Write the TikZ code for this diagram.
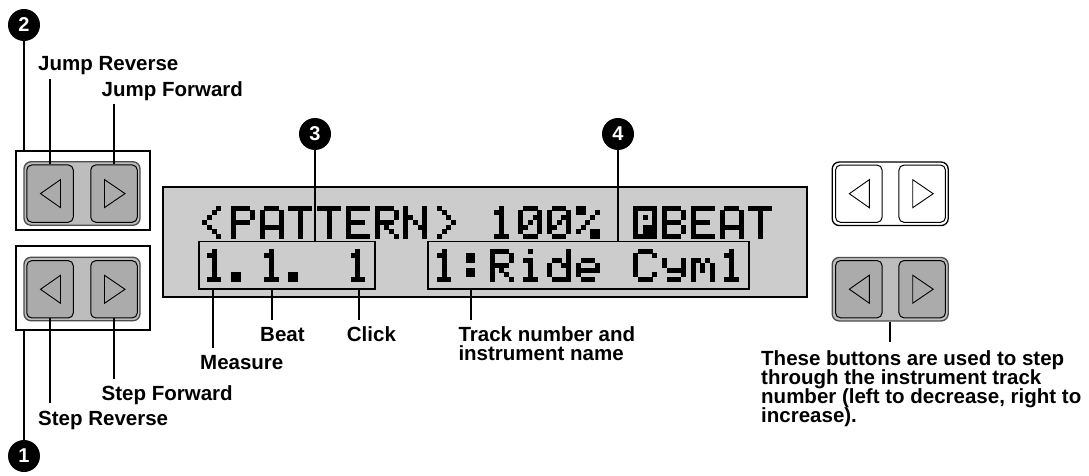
\documentclass[tikz,border=0pt]{standalone}
\usepackage{fontspec}
\setmainfont{Liberation Sans}
\definecolor{lcdbg}{gray}{0.8}
\definecolor{padgray}{gray}{0.74}
\definecolor{btngray}{gray}{0.67}
\definecolor{padline}{gray}{0.3}
\def\lcddot{4.78}
\def\lcddotp{5.0}
% 5x7 LCD glyphs
\def\gLT{00010,00100,01000,10000,01000,00100,00010}
\def\gGT{01000,00100,00010,00001,00010,00100,01000}
\def\gP{11110,10001,10001,11110,10000,10000,10000}
\def\gA{01110,10001,10001,10001,11111,10001,10001}
\def\gT{11111,00100,00100,00100,00100,00100,00100}
\def\gE{11111,10000,10000,11110,10000,10000,11111}
\def\gR{11110,10001,10001,11110,10100,10010,10001}
\def\gN{10001,10001,11001,10101,10011,10001,10001}
\def\gone{00100,01100,00100,00100,00100,00100,01110}
\def\gzero{01110,10001,10011,10101,11001,10001,01110}
\def\gpct{11000,11001,00010,00100,01000,10011,00011}
\def\gB{11110,10001,10001,11110,10001,10001,11110}
\def\gdot{00000,00000,00000,00000,00000,11000,11000}
\def\gcolon{00000,01100,01100,00000,01100,01100,00000}
\def\gi{00100,00000,01100,00100,00100,00100,01110}
\def\gd{00001,00001,01101,10011,10001,10001,01111}
\def\ge{00000,00000,01110,10001,11111,10000,01110}
\def\gC{01110,10001,10000,10000,10000,10001,01110}
\def\gy{00000,00000,10001,10001,01111,00001,01110}
\def\gm{00000,00000,11010,10101,10101,10001,10001}
\def\gblk{11111,10001,10101,10001,10111,10111,11111}
\makeatletter
\newcommand\lcdat[3]{%
  \pgfmathsetmacro\lcdX{202+#1*28.75}%
  \edef\lcdG{#3}%
  \lcdglyph{\lcdX}{#2}}
\def\lcdglyph#1#2{%
  \foreach \lcd@r [count=\lcd@i from 0] in \lcdG {%
    \pgfmathsetmacro\lcd@yy{#2+\lcd@i*\lcddot}%
    \edef\lcd@x{#1}%
    \expandafter\lcd@row\lcd@r\relax
  }}
\def\lcd@row#1{%
  \ifx#1\relax\else
    \ifnum#1=1 \fill (\lcd@x,\lcd@yy) rectangle ++(\lcddotp,\lcddotp);\fi
    \pgfmathsetmacro\lcd@x{\lcd@x+\lcddot}%
    \expandafter\lcd@row
  \fi}
\makeatother
\tikzset{
  frame/.style={draw=black, line width=2pt, fill=white, inner sep=0pt, rectangle},
  pad/.style={draw=padline, line width=1.3pt, fill=padgray, rounded corners=7pt, minimum width=116pt, minimum height=63.5pt, inner sep=0pt},
  whitepad/.style={pad, fill=white, draw=black},
  btn/.style={draw=black, line width=1pt, fill=btngray, rounded corners=5pt, minimum width=46.5pt, minimum height=57.3pt, inner sep=0pt},
  wbtn/.style={btn, fill=white},
  tri/.style={draw=black, line width=0.9pt, line join=miter},
  stem/.style={draw=black, line width=2pt},
  numc/.style={circle, fill=black, text=white, minimum size=32pt, inner sep=0pt, font=\bfseries\fontsize{20}{20}\selectfont},
  lbl/.style={inner sep=0pt, font=\bfseries\fontsize{20.5}{19.2}\selectfont, anchor=base west},
  lcdframe/.style={draw=black, line width=2.2pt, fill=lcdbg, inner sep=0pt},
  field/.style={draw=black, line width=1.8pt, inner sep=0pt},
}
\begin{document}
\begin{tikzpicture}[x=1pt,y=-1pt]
\path[use as bounding box] (0,0) rectangle (1089,476);
% ---- Jump buttons
\node[frame, minimum width=134pt, minimum height=79.5pt] (jbox) at (83,190.5) {};
\node[pad] (jpad) at (82,193.5) {};
\node[btn] (jl) at (50,193.6) {};
\node[btn] (jr) at (114,193.6) {};
\draw[tri, shift={(jl.center)}] (-9.5,0) -- (10.5,-14) -- (10.5,14) -- cycle;
\draw[tri, shift={(jr.center)}] (-9.5,-14) -- (11,0) -- (-9.5,14) -- cycle;
% ---- Step buttons
\node[frame, minimum width=134pt, minimum height=84pt] (sbox) at (83,288) {};
\node[pad] (spad) at (82,289) {};
\node[btn] (sl) at (50,289.3) {};
\node[btn] (sr) at (114,289.3) {};
\draw[tri, shift={(sl.center)}] (-9.5,0) -- (10.5,-14) -- (10.5,14) -- cycle;
\draw[tri, shift={(sr.center)}] (-9.5,-14) -- (11,0) -- (-9.5,14) -- cycle;
% ---- numbers 1,2
\node[numc] (c2) at (24,25) {2};
\node[numc] (c1) at (24,456) {1};
\draw[stem] (c2.south) -- (c2.south |- jbox.north);
\draw[stem] (c1.north) -- (c1.north |- sbox.south);
% ---- left labels
\node[lbl] (ljr) at (38,70.5) {Jump Reverse};
\node[lbl] (ljf) at (101.5,97) {Jump Forward};
\node[lbl] (lsf) at (101.5,400) {Step Forward};
\node[lbl] (lsr) at (38,425) {Step Reverse};
\coordinate (jrEnd) at (50,79);
\coordinate (jfEnd) at (114,104);
\coordinate (srEnd) at (50,403);
\coordinate (sfEnd) at (114,379);
\draw[stem] (jl.north) -- (jl.north |- jrEnd);
\draw[stem] (jr.north) -- (jr.north |- jfEnd);
\draw[stem] (sl.south) -- (sl.south |- srEnd);
\draw[stem] (sr.south) -- (sr.south |- sfEnd);
% ---- LCD
\node[lcdframe, minimum width=643.7pt, minimum height=110pt] (lcd) at (485.2,241.7) {};
\node[field, minimum width=176pt, minimum height=47.8pt] (f1) at (287,265.4) {};
\node[field, minimum width=321pt, minimum height=47.8pt] (f2) at (588.5,265.4) {};
% row 1: <PATTERN> 100% xBEAT
\lcdat{0}{205.5}{\gLT}\lcdat{1}{205.5}{\gP}\lcdat{2}{205.5}{\gA}\lcdat{3}{205.5}{\gT}
\lcdat{4}{205.5}{\gT}\lcdat{5}{205.5}{\gE}\lcdat{6}{205.5}{\gR}\lcdat{7}{205.5}{\gN}
\lcdat{8}{205.5}{\gGT}
\lcdat{10}{205.5}{\gone}\lcdat{11}{205.5}{\gzero}\lcdat{12}{205.5}{\gzero}\lcdat{13}{205.5}{\gpct}
\lcdat{15}{205.5}{\gblk}\lcdat{16}{205.5}{\gB}\lcdat{17}{205.5}{\gE}\lcdat{18}{205.5}{\gA}\lcdat{19}{205.5}{\gT}
% row 2: 1.1. 1   1:Ride Cym1
\lcdat{0}{248.5}{\gone}\lcdat{1}{248.5}{\gdot}\lcdat{2}{248.5}{\gone}\lcdat{3}{248.5}{\gdot}
\lcdat{5}{248.5}{\gone}
\lcdat{8}{248.5}{\gone}\lcdat{9}{248.5}{\gcolon}\lcdat{10}{248.5}{\gR}\lcdat{11}{248.5}{\gi}
\lcdat{12}{248.5}{\gd}\lcdat{13}{248.5}{\ge}
\lcdat{15}{248.5}{\gC}\lcdat{16}{248.5}{\gy}\lcdat{17}{248.5}{\gm}\lcdat{18}{248.5}{\gone}
% ---- numbers 3,4
\node[numc] (c3) at (315,134) {3};
\node[numc] (c4) at (618,134) {4};
\draw[stem] (c3.south) -- (c3.south |- f1.north);
\draw[stem] (c4.south) -- (c4.south |- f2.north);
% ---- field labels
\node[lbl] (lmeas) at (200,369) {Measure};
\node[lbl] (lbeat) at (260,341.7) {Beat};
\node[lbl] (lclick) at (346.7,341.7) {Click};
\node[lbl, align=left] (ltrack) at (458.3,360.9) {Track number and\\instrument name};
\coordinate (mEnd) at (212.7,348);
\coordinate (bEnd) at (272.3,320);
\coordinate (cEnd) at (359,320);
\coordinate (tEnd) at (471,320);
\draw[stem] (f1.south -| mEnd) -- (mEnd);
\draw[stem] (f1.south -| bEnd) -- (bEnd);
\draw[stem] (f1.south -| cEnd) -- (cEnd);
\draw[stem] (f2.south -| tEnd) -- (tEnd);
% ---- right buttons
\node[whitepad] (wpad) at (890.2,193.8) {};
\node[wbtn] (wl) at (858.8,193.7) {};
\node[wbtn] (wr) at (922.2,193.7) {};
\draw[tri, shift={(wl.center)}] (-9.5,0) -- (10.5,-14) -- (10.5,14) -- cycle;
\draw[tri, shift={(wr.center)}] (-9.5,-14) -- (11,0) -- (-9.5,14) -- cycle;
\node[pad] (gpad) at (890.2,289.2) {};
\node[btn] (gl) at (858.8,289.2) {};
\node[btn] (gr) at (922.2,289.2) {};
\draw[tri, shift={(gl.center)}] (-9.5,0) -- (10.5,-14) -- (10.5,14) -- cycle;
\draw[tri, shift={(gr.center)}] (-9.5,-14) -- (11,0) -- (-9.5,14) -- cycle;
\coordinate (gEnd) at (890.2,342);
\draw[stem] (gpad.south) -- (gpad.south |- gEnd);
\node[lbl, align=left] (note) at (761,422.6) {These buttons are used to step\\through the instrument track\\number (left to decrease, right to\\increase).};
\end{tikzpicture}
\end{document}
